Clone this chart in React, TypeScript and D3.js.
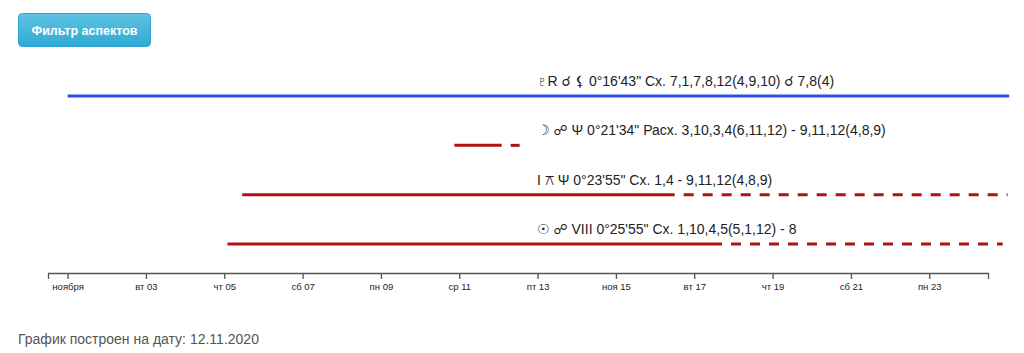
import React, { useRef, useEffect } from "react";
import * as d3 from "d3";

// аспекты (подписи над линиями)
const aspectLabels = [
  "♇R ☌ ⚸ 0°16'43\" Сх. 7,1,7,8,12(4,9,10) ☌ 7,8(4)",
  "☽ ☍ Ψ 0°21'34\" Расх. 3,10,3,4(6,11,12) - 9,11,12(4,8,9)",
  "I ⚻ Ψ 0°23'55\" Сх. 1,4 - 9,11,12(4,8,9)",
  "☉ ☍ VIII 0°25'55\" Сх. 1,10,4,5(5,1,12) - 8",
];
const aspectGroup = ["natal", "transit", "transit", "transit"];

// начало, конец сплошной части, конец пунктира
const startDates = [
  new Date(2020, 10, 1, 0),
  new Date(2020, 10, 10, 21),
  new Date(2020, 10, 5, 11),
  new Date(2020, 10, 5, 2),
];
const solidEndDates = [
  new Date(2020, 10, 25, 1),
  new Date(2020, 10, 12, 2),
  new Date(2020, 10, 16, 12),
  new Date(2020, 10, 17, 17),
];
const dashEndDates = [
  new Date(2020, 10, 25, 1),
  new Date(2020, 10, 12, 13),
  new Date(2020, 10, 25, 0),
  new Date(2020, 10, 24, 21),
];

const axisDomain = [new Date(2020, 9, 31, 12), new Date(2020, 10, 24, 12)];

// русская локаль для подписей оси
const ruMonths = ["января", "февраля", "марта", "апреля", "мая", "июня", "июля", "августа", "сентября", "октября", "ноября", "декабря"];
const ruShortMonths = ["янв", "фев", "мар", "апр", "май", "июн", "июл", "авг", "сен", "окт", "ноя", "дек"];
const ruDays = ["воскресенье", "понедельник", "вторник", "среда", "четверг", "пятница", "суббота"];
const ruShortDays = ["вс", "пн", "вт", "ср", "чт", "пт", "сб"];

const buildDate = "12.11.2020";

const App = () => {
  const ref = useRef<SVGSVGElement | null>(null);

  useEffect(() => {
    if (!ref.current) return;
    const svg = d3.select(ref.current);
    svg.selectAll("*").remove();

    const locale = d3.timeFormatLocale({
      dateTime: "%A, %e %B %Y г. %X",
      date: "%d.%m.%Y",
      time: "%H:%M:%S",
      periods: ["AM", "PM"],
      days: ruDays,
      shortDays: ruShortDays,
      months: ruMonths,
      shortMonths: ruShortMonths,
    });
    const fmtDay = locale.format("%a %d");
    const fmtWeek = locale.format("%b %d");
    const fmtMonth = locale.format("%B");
    const multiFormat = (d: Date) =>
      d3.timeMonth(d) < d
        ? d3.timeWeek(d) < d
          ? fmtDay(d)
          : fmtWeek(d)
        : fmtMonth(d);

    const x = d3.scaleTime().domain(axisDomain).range([48, 988]);
    const y = d3
      .scalePoint<number>()
      .domain(d3.range(aspectLabels.length))
      .range([96, 244]);
    const color = d3
      .scaleOrdinal<string, string>()
      .domain(["natal", "transit"])
      .range(["#2c50f0", "#ae1212"]);

    // кнопка
    const defs = svg.append("defs");
    const grad = defs
      .append("linearGradient")
      .attr("id", "btnGrad")
      .attr("x1", 0)
      .attr("y1", 0)
      .attr("x2", 0)
      .attr("y2", 1);
    grad.append("stop").attr("offset", "0%").attr("stop-color", "#5ec3e3");
    grad.append("stop").attr("offset", "100%").attr("stop-color", "#2fa9d4");
    svg
      .append("rect")
      .attr("x", 18.5)
      .attr("y", 13.5)
      .attr("width", 132)
      .attr("height", 33)
      .attr("rx", 4)
      .attr("fill", "url(#btnGrad)")
      .attr("stroke", "#2ba3cd");
    svg
      .append("text")
      .attr("x", 84.5)
      .attr("y", 34.5)
      .attr("text-anchor", "middle")
      .style("font-family", "Liberation Sans, Arial, sans-serif")
      .style("font-size", "12.5px")
      .style("font-weight", "bold")
      .style("fill", "#fff")
      .text("Фильтр аспектов");

    // линии аспектов
    const rows = svg
      .append("g")
      .selectAll("g")
      .data(d3.range(aspectLabels.length))
      .enter()
      .append("g");

    rows
      .append("line")
      .attr("x1", (i) => x(startDates[i]))
      .attr("x2", (i) => x(solidEndDates[i]))
      .attr("y1", (i) => y(i)!)
      .attr("y2", (i) => y(i)!)
      .attr("stroke", (i) => color(aspectGroup[i]))
      .attr("stroke-width", 3);

    rows
      .filter((i) => dashEndDates[i] > solidEndDates[i])
      .append("line")
      .attr("x1", (i) => x(solidEndDates[i]))
      .attr("x2", (i) => x(dashEndDates[i]))
      .attr("y1", (i) => y(i)!)
      .attr("y2", (i) => y(i)!)
      .attr("stroke", (i) => color(aspectGroup[i]))
      .attr("stroke-width", 3)
      .attr("stroke-dasharray", "10,9")
      .attr("stroke-dashoffset", 10);

    rows
      .append("text")
      .attr("x", 537)
      .attr("y", (i) => y(i)! - 10)
      .style("font-family", "Liberation Sans, Arial, DejaVu Sans, sans-serif")
      .style("font-size", "14px")
      .style("fill", "#222")
      .text((i) => aspectLabels[i]);

    // ось времени
    const axis = svg
      .append("g")
      .attr("transform", "translate(0,273)")
      .call(
        d3
          .axisBottom(x)
          .ticks(d3.timeDay.every(2)!)
          .tickFormat((d) => multiFormat(d as Date))
      );
    axis.select(".domain").attr("stroke", "#555").attr("stroke-width", 1.3);
    axis.selectAll(".tick line").attr("stroke", "#555").attr("stroke-width", 1.3);
    axis
      .selectAll(".tick text")
      .style("font-family", "Liberation Sans, Arial, sans-serif")
      .style("font-size", "9.5px")
      .style("fill", "#222")
      .attr("dy", "0.85em");

    // подпись даты построения
    svg
      .append("text")
      .attr("x", 18)
      .attr("y", 344)
      .style("font-family", "Liberation Sans, Arial, sans-serif")
      .style("font-size", "14px")
      .style("fill", "#555")
      .text(`График построен на дату: ${buildDate}`);
  }, []);

  return (
    <svg
      ref={ref}
      width={1024}
      height={353}
      style={{ position: "absolute", left: 0, top: 0, background: "#fff" }}
    />
  );
};

export default App;
